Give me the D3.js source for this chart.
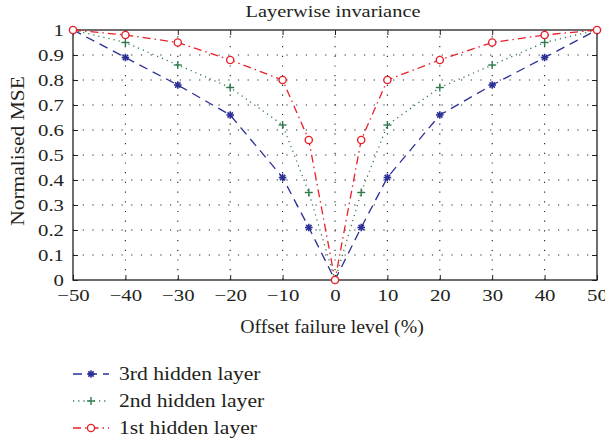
<!DOCTYPE html>
<html>
<head>
<meta charset="utf-8">
<script src="https://cdn.jsdelivr.net/npm/d3@7/dist/d3.min.js"></script>
<style>
  html, body { margin: 0; padding: 0; background: #fff; }
  svg { display: block; }
  text { font-family: "Liberation Serif", "DejaVu Serif", serif; fill: #231f20; }
</style>
</head>
<body>
<svg id="chart" width="605" height="445"></svg>
<script>
// Offset failure levels (%)
const offsets = [-50, -40, -30, -20, -10, -5, 0, 5, 10, 20, 30, 40, 50];
// Normalised MSE per hidden layer
const layer3 = [1, 0.89, 0.78, 0.66, 0.41, 0.21, 0, 0.21, 0.41, 0.66, 0.78, 0.89, 1];
const layer2 = [1, 0.95, 0.86, 0.77, 0.62, 0.35, 0, 0.35, 0.62, 0.77, 0.86, 0.95, 1];
const layer1 = [1, 0.98, 0.95, 0.88, 0.80, 0.56, 0, 0.56, 0.80, 0.88, 0.95, 0.98, 1];
const seriesNames = ["3rd hidden layer", "2nd hidden layer", "1st hidden layer"];
const xTicks = [-50, -40, -30, -20, -10, 0, 10, 20, 30, 40, 50];
const yTicks = [0, 0.1, 0.2, 0.3, 0.4, 0.5, 0.6, 0.7, 0.8, 0.9, 1];

const series = [
  { name: seriesNames[0], values: layer3, color: "#2b2f96", dash: "9,6", marker: "star" },
  { name: seriesNames[1], values: layer2, color: "#2f7a4c", dash: "1.2,4", marker: "plus" },
  { name: seriesNames[2], values: layer1, color: "#e8202a", dash: "8,4,1.5,4", marker: "circle" }
];

const svg = d3.select("#chart");
const m = { left: 73, right: 597, top: 30, bottom: 280 };

const x = d3.scaleLinear().domain([-50, 50]).range([m.left, m.right]);
const y = d3.scaleLinear().domain([0, 1]).range([m.bottom, m.top]);

// Widen glyphs horizontally by factor k
function widen(sel, k) {
  sel.each(function () {
    const w = this.getComputedTextLength();
    d3.select(this).attr("textLength", w * k).attr("lengthAdjust", "spacingAndGlyphs");
  });
}

// Dotted grid
const grid = svg.append("g").attr("stroke", "#222").attr("stroke-width", 1.1)
  .attr("stroke-dasharray", "1.2,8.5");
grid.selectAll(".gx").data(xTicks.slice(1, -1)).join("line")
  .attr("x1", d => x(d)).attr("x2", d => x(d))
  .attr("y1", m.bottom).attr("y2", m.top);
grid.selectAll(".gy").data(yTicks.slice(1, -1)).join("line")
  .attr("x1", m.left).attr("x2", m.right)
  .attr("y1", d => y(d)).attr("y2", d => y(d));

// Axes with inward ticks
const xAxis = d3.axisBottom(x).tickValues(xTicks).tickSize(-5).tickPadding(10)
  .tickFormat(d => d < 0 ? "\u2212" + Math.abs(d) : d);
const yAxis = d3.axisLeft(y).tickValues(yTicks).tickSize(-5).tickPadding(9)
  .tickFormat(d => d === 0 ? "0" : d === 1 ? "1" : d3.format(".1f")(d));

const gx = svg.append("g").attr("transform", `translate(0,${m.bottom})`).call(xAxis);
const gy = svg.append("g").attr("transform", `translate(${m.left},0)`).call(yAxis);
[gx, gy].forEach(g => {
  g.select(".domain").remove();
  g.selectAll("line").attr("stroke", "#231f20");
  g.selectAll("text").style("font-size", "16px").attr("fill", "#231f20")
    .style("font-family", "\"Liberation Serif\", serif");
});
gx.selectAll("text").attr("dy", "0.71em");
widen(gx.selectAll("text"), 1.3);
widen(gy.selectAll("text"), 1.3);

// Mirror ticks on top and right
svg.append("g").attr("transform", `translate(0,${m.top})`)
  .call(d3.axisTop(x).tickValues(xTicks).tickSize(-5).tickFormat(""))
  .call(g => g.select(".domain").remove())
  .selectAll("line").attr("stroke", "#231f20");
svg.append("g").attr("transform", `translate(${m.right},0)`)
  .call(d3.axisRight(y).tickValues(yTicks).tickSize(-5).tickFormat(""))
  .call(g => g.select(".domain").remove())
  .selectAll("line").attr("stroke", "#231f20");

// Frame
svg.append("rect").attr("x", m.left).attr("y", m.top)
  .attr("width", m.right - m.left).attr("height", m.bottom - m.top)
  .attr("fill", "none").attr("stroke", "#231f20").attr("stroke-width", 1.3);

// Marker drawing
function drawMarker(g, type, cx, cy, color) {
  if (type === "star") {
    const r = 3.8;
    const p = g.append("g").attr("stroke", color).attr("stroke-width", 1.6);
    [0, 45, 90, 135].forEach(a => {
      const rad = a * Math.PI / 180;
      p.append("line")
        .attr("x1", cx - r * Math.cos(rad)).attr("y1", cy - r * Math.sin(rad))
        .attr("x2", cx + r * Math.cos(rad)).attr("y2", cy + r * Math.sin(rad));
    });
  } else if (type === "plus") {
    const r = 4;
    const p = g.append("g").attr("stroke", color).attr("stroke-width", 1.4);
    p.append("line").attr("x1", cx - r).attr("x2", cx + r).attr("y1", cy).attr("y2", cy);
    p.append("line").attr("x1", cx).attr("x2", cx).attr("y1", cy - r).attr("y2", cy + r);
  } else {
    g.append("circle").attr("cx", cx).attr("cy", cy).attr("r", 3.6)
      .attr("fill", "#fff").attr("stroke", color).attr("stroke-width", 1.4);
  }
}

const line = d3.line().x(d => x(d[0])).y(d => y(d[1]));
series.forEach(s => {
  const pts = offsets.map((o, i) => [o, s.values[i]]);
  svg.append("path").datum(pts).attr("d", line)
    .attr("fill", "none").attr("stroke", s.color).attr("stroke-width", 1.3)
    .attr("stroke-dasharray", s.dash);
  const mg = svg.append("g");
  pts.forEach(p => drawMarker(mg, s.marker, x(p[0]), y(p[1]), s.color));
});

// Title and axis labels
const title = svg.append("text").attr("x", 333).attr("y", 17).attr("text-anchor", "middle")
  .style("font-size", "17px").text("Layerwise invariance");
widen(title, 1.2);
const xLab = svg.append("text").attr("x", 332).attr("y", 333).attr("text-anchor", "middle")
  .style("font-size", "19px").text("Offset failure level (%)");
widen(xLab, 1.04);
const yLab = svg.append("text").attr("transform", `translate(24,${(m.top + m.bottom) / 2 - 4}) rotate(-90)`)
  .attr("text-anchor", "middle").style("font-size", "19px").text("Normalised MSE");
widen(yLab, 1.13);

// Legend
const legY = [374, 401, 428];
series.forEach((s, i) => {
  const ly = legY[i];
  svg.append("line").attr("x1", 73).attr("x2", 109).attr("y1", ly).attr("y2", ly)
    .attr("stroke", s.color).attr("stroke-width", 1.3).attr("stroke-dasharray", s.dash);
  drawMarker(svg, s.marker, 91, ly, s.color);
  const t = svg.append("text").attr("x", 119).attr("y", ly + 6).style("font-size", "18px").text(s.name);
  widen(t, 1.2);
});
</script>
</body>
</html>
